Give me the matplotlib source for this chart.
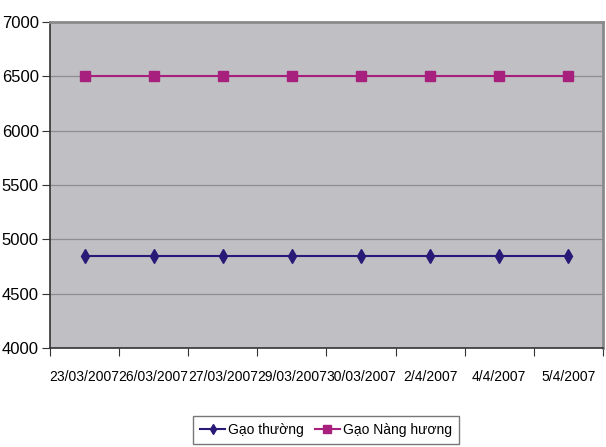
import numpy as np
import matplotlib.pyplot as plt

plt.rcParams['font.family'] = ['Liberation Sans', 'DejaVu Sans']

dates = ['23/03/2007', '26/03/2007', '27/03/2007', '29/03/2007',
         '30/03/2007', '2/4/2007', '4/4/2007', '5/4/2007']
gao_thuong = [4850, 4850, 4850, 4850, 4850, 4850, 4850, 4850]
gao_nang_huong = [6500, 6500, 6500, 6500, 6500, 6500, 6500, 6500]

fig = plt.figure(figsize=(6.06, 4.47), dpi=100)
ax = fig.add_axes([0.0825, 0.2215, 0.9125, 0.7295])
ax.set_facecolor('#c0c0c4')

x = np.arange(len(dates))
ax.plot(x, gao_thuong, color='#2a1a78', lw=1.5, marker='d', ms=7,
        label='Gạo thường')
ax.plot(x, gao_nang_huong, color='#a8207e', lw=1.5, marker='s', ms=6.5,
        label='Gạo Nàng hương')

ax.set_xlim(-0.5, len(dates) - 0.5)
ax.set_ylim(4000, 7000)
ax.set_yticks(np.arange(4000, 7001, 500))
ax.yaxis.grid(True, color='#8e8e90', lw=0.9)
ax.set_axisbelow(True)

# ticks sit between categories, labels centred on them
ax.set_xticks(np.arange(-0.5, len(dates), 1.0))
ax.set_xticklabels([])
ax.set_xticks(x, minor=True)
ax.set_xticklabels(dates, minor=True, fontsize=10)
ax.tick_params(axis='x', which='minor', length=0, pad=16)
ax.tick_params(axis='x', which='major', length=6, color='#333333')
ax.tick_params(axis='y', length=6, labelsize=12, pad=2, color='#333333')

for side in ['left', 'bottom']:
    ax.spines[side].set_color('#333333')
    ax.spines[side].set_linewidth(1.2)
for side in ['top', 'right']:
    ax.spines[side].set_color('#8a8a8a')
    ax.spines[side].set_linewidth(2)

leg = fig.legend(loc='upper center', bbox_to_anchor=(0.538, 0.07), ncol=2,
                 fontsize=10, frameon=True, fancybox=False, handlelength=1.8,
                 handletextpad=0.2, columnspacing=0.8, borderpad=0.5,
                 borderaxespad=0, markerscale=0.8)
leg.get_frame().set_edgecolor('#555555')
leg.get_frame().set_linewidth(1)

fig.savefig('out.png', dpi=100)
